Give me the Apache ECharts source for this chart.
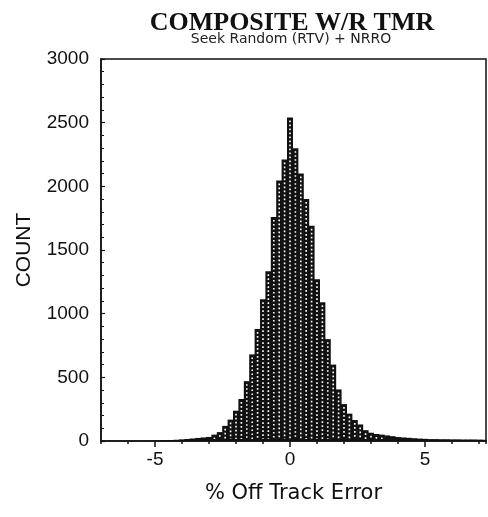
<!DOCTYPE html>
<html>
<head>
<meta charset="utf-8">
<script src="https://cdn.jsdelivr.net/npm/echarts@6/dist/echarts.min.js"></script>
<style>
  html, body { margin: 0; padding: 0; background: #fff; }
  #chart { width: 488px; height: 517px; }
</style>
</head>
<body>
<div id="chart"></div>
<script>
// Histogram of off-track error (% of track pitch), 0.2-wide bins
const binWidth = 0.2;
const binCenters = [
  -7.0, -6.8, -6.6, -6.4, -6.2, -6.0, -5.8, -5.6, -5.4, -5.2,
  -5.0, -4.8, -4.6, -4.4, -4.2, -4.0, -3.8, -3.6, -3.4, -3.2,
  -3.0, -2.8, -2.6, -2.4, -2.2, -2.0, -1.8, -1.6, -1.4, -1.2,
  -1.0, -0.8, -0.6, -0.4, -0.2, 0.0, 0.2, 0.4, 0.6, 0.8,
  1.0, 1.2, 1.4, 1.6, 1.8, 2.0, 2.2, 2.4, 2.6, 2.8,
  3.0, 3.2, 3.4, 3.6, 3.8, 4.0, 4.2, 4.4, 4.6, 4.8,
  5.0, 5.2, 5.4, 5.6, 5.8, 6.0, 6.2, 6.4, 6.6, 6.8,
  7.0, 7.2
];
const counts = [
  0, 0, 0, 0, 0, 0, 0, 0, 0, 1,
  2, 4, 6, 8, 10, 13, 16, 20, 24, 28,
  32, 50, 70, 119, 168, 238, 330, 470, 680, 880,
  1113, 1333, 1760, 2045, 2210, 2540, 2300, 2100, 1900, 1690,
  1270, 1090, 800, 600, 405, 290, 215, 165, 130, 85,
  65, 55, 50, 44, 38, 31, 28, 25, 22, 19,
  17, 15, 15, 14, 14, 13, 13, 12, 12, 12,
  11, 10
];
const xMajorTicks = [-5, 0, 5];

const chart = echarts.init(document.getElementById('chart'), null, { renderer: 'canvas' });

const hist = binCenters.map((x, i) => [x, counts[i]]);

chart.setOption({
  animation: false,
  backgroundColor: '#ffffff',
  title: [
    {
      text: 'COMPOSITE W/R TMR',
      left: 287, top: 5, textAlign: 'center',
      textStyle: { fontFamily: 'Liberation Serif', fontWeight: 'bold', fontSize: 26, color: '#111' }
    },
    {
      text: 'Seek Random (RTV) + NRRO',
      left: 286, top: 27, textAlign: 'center',
      textStyle: { fontFamily: 'DejaVu Sans', fontWeight: 'normal', fontSize: 14, color: '#222' }
    }
  ],
  grid: {
    left: 101, right: 2, top: 59, bottom: 76,
    show: true, borderColor: '#111', borderWidth: 1.5, backgroundColor: 'transparent'
  },
  xAxis: [
    {
      type: 'value', min: -7, max: 7.26, interval: 1,
      name: '% Off Track Error', nameLocation: 'middle', nameGap: 42,
      nameTextStyle: { fontFamily: 'DejaVu Sans', fontSize: 21, color: '#111' },
      axisLine: { show: true, onZero: false, lineStyle: { color: '#111', width: 1.5 } },
      axisTick: { show: true, inside: false, length: 3, lineStyle: { color: '#111', width: 1.5 } },
      axisLabel: { show: false },
      splitLine: { show: false }
    },
    {
      type: 'value', min: -7, max: 7.26, position: 'bottom',
      axisLine: { show: false, onZero: false },
      axisTick: { show: true, inside: false, length: 6, customValues: xMajorTicks,
                  lineStyle: { color: '#111', width: 1.5 } },
      axisLabel: { show: true, customValues: xMajorTicks, margin: 9,
                   fontFamily: 'Liberation Sans', fontSize: 19, color: '#111' },
      splitLine: { show: false }
    }
  ],
  yAxis: {
    type: 'value', min: 0, max: 3000, interval: 500,
    name: 'COUNT', nameLocation: 'middle', nameGap: 66, nameRotate: 90,
    nameTextStyle: { fontFamily: 'Liberation Sans', fontSize: 21, color: '#111' },
    axisLine: { show: true, onZero: false, lineStyle: { color: '#111', width: 1.5 } },
    axisTick: { show: true, inside: true, length: 4, lineStyle: { color: '#111', width: 1.2 } },
    minorTick: { show: true, splitNumber: 5, length: 3, lineStyle: { color: '#111', width: 1 } },
    axisLabel: { margin: 12, fontFamily: 'Liberation Sans', fontSize: 19, color: '#111',
                 formatter: function (v) { return String(v); } },
    splitLine: { show: false }
  },
  series: [{
    type: 'custom',
    xAxisIndex: 0,
    clip: true,
    data: hist,
    renderItem: function (params, api) {
      const x = api.value(0);
      const c = api.value(1);
      if (!c) return null;
      const tl = api.coord([x - binWidth / 2, c]);
      const br = api.coord([x + binWidth / 2, 0]);
      const w = br[0] - tl[0];
      const h = br[1] - tl[1];
      const children = [{
        type: 'rect',
        shape: { x: tl[0] - 0.3, y: tl[1], width: w + 0.6, height: h },
        style: { fill: '#111' }
      }];
      if (h > 6) {
        children.push({
          type: 'line',
          shape: { x1: tl[0] + w / 2, y1: tl[1] + 3, x2: tl[0] + w / 2, y2: br[1] - 2 },
          style: { stroke: '#fff', lineWidth: 1.6, lineDash: [1.7, 2.3] }
        });
      }
      return { type: 'group', children: children };
    }
  }]
});
</script>
</body>
</html>
